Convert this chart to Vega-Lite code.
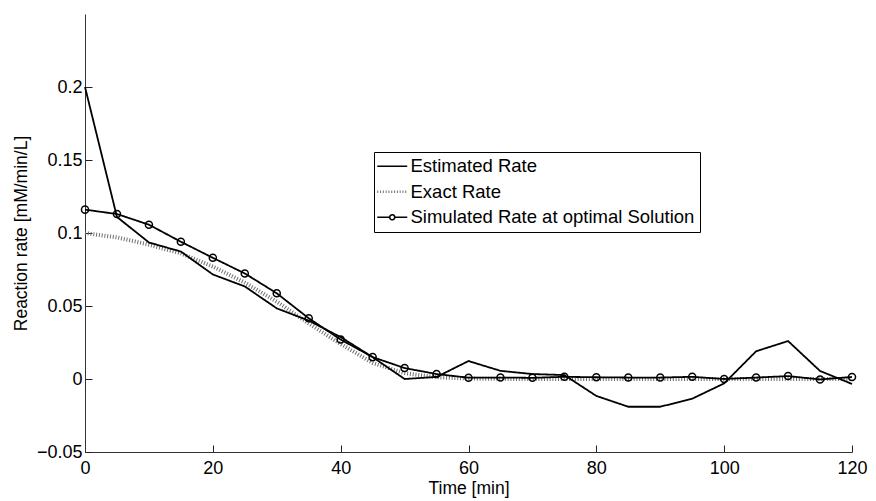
{
  "$schema": "https://vega.github.io/schema/vega-lite/v6.json",
  "width": 767,
  "height": 438,
  "autosize": {"type": "none"},
  "padding": {"left": 85, "top": 14, "right": 24, "bottom": 49},
  "background": "white",
  "config": {
    "view": {"stroke": null},
    "font": "Liberation Sans",
    "axis": {
      "grid": false,
      "domainColor": "#333333",
      "domainWidth": 1,
      "tickColor": "#222222",
      "tickWidth": 1,
      "tickSize": -7,
      "labelColor": "black",
      "labelFont": "Liberation Sans",
      "labelFontSize": 18,
      "titleFont": "Liberation Sans",
      "titleFontSize": 17.5,
      "titleFontWeight": "normal",
      "titleColor": "black"
    },
    "legend": {
      "orient": "none",
      "legendX": 289,
      "legendY": 138,
      "strokeColor": "black",
      "fillColor": "white",
      "padding": 5,
      "rowPadding": 6.5,
      "symbolSize": 400,
      "symbolOffset": 4,
      "labelOffset": 9,
      "labelFont": "Liberation Sans",
      "labelFontSize": 18.5,
      "labelColor": "black",
      "labelLimit": 400
    }
  },
  "data": {
    "values": [
      {"t": 0, "series": "Estimated Rate", "v": 0.2},
      {"t": 5, "series": "Estimated Rate", "v": 0.111},
      {"t": 10, "series": "Estimated Rate", "v": 0.0935},
      {"t": 15, "series": "Estimated Rate", "v": 0.0873},
      {"t": 20, "series": "Estimated Rate", "v": 0.0716},
      {"t": 25, "series": "Estimated Rate", "v": 0.0634},
      {"t": 30, "series": "Estimated Rate", "v": 0.0484},
      {"t": 35, "series": "Estimated Rate", "v": 0.04},
      {"t": 40, "series": "Estimated Rate", "v": 0.0287},
      {"t": 45, "series": "Estimated Rate", "v": 0.015},
      {"t": 50, "series": "Estimated Rate", "v": 0.0},
      {"t": 55, "series": "Estimated Rate", "v": 0.0014},
      {"t": 60, "series": "Estimated Rate", "v": 0.0123},
      {"t": 65, "series": "Estimated Rate", "v": 0.0056},
      {"t": 70, "series": "Estimated Rate", "v": 0.0034},
      {"t": 75, "series": "Estimated Rate", "v": 0.0027},
      {"t": 80, "series": "Estimated Rate", "v": -0.0116},
      {"t": 85, "series": "Estimated Rate", "v": -0.019},
      {"t": 90, "series": "Estimated Rate", "v": -0.019},
      {"t": 95, "series": "Estimated Rate", "v": -0.0135},
      {"t": 100, "series": "Estimated Rate", "v": -0.003},
      {"t": 105, "series": "Estimated Rate", "v": 0.019},
      {"t": 110, "series": "Estimated Rate", "v": 0.026},
      {"t": 115, "series": "Estimated Rate", "v": 0.0055},
      {"t": 120, "series": "Estimated Rate", "v": -0.0034},
      {"t": 0, "series": "Exact Rate", "v": 0.1},
      {"t": 5, "series": "Exact Rate", "v": 0.097},
      {"t": 10, "series": "Exact Rate", "v": 0.092},
      {"t": 15, "series": "Exact Rate", "v": 0.086},
      {"t": 20, "series": "Exact Rate", "v": 0.077},
      {"t": 25, "series": "Exact Rate", "v": 0.066},
      {"t": 30, "series": "Exact Rate", "v": 0.053},
      {"t": 35, "series": "Exact Rate", "v": 0.038},
      {"t": 40, "series": "Exact Rate", "v": 0.024},
      {"t": 45, "series": "Exact Rate", "v": 0.011},
      {"t": 50, "series": "Exact Rate", "v": 0.004},
      {"t": 55, "series": "Exact Rate", "v": 0.0012},
      {"t": 60, "series": "Exact Rate", "v": 0.0003},
      {"t": 65, "series": "Exact Rate", "v": 0.0001},
      {"t": 70, "series": "Exact Rate", "v": 0.0},
      {"t": 75, "series": "Exact Rate", "v": 0.0},
      {"t": 80, "series": "Exact Rate", "v": 0.0},
      {"t": 85, "series": "Exact Rate", "v": 0.0},
      {"t": 90, "series": "Exact Rate", "v": 0.0},
      {"t": 95, "series": "Exact Rate", "v": 0.0},
      {"t": 100, "series": "Exact Rate", "v": 0.0},
      {"t": 105, "series": "Exact Rate", "v": 0.0},
      {"t": 110, "series": "Exact Rate", "v": 0.0},
      {"t": 115, "series": "Exact Rate", "v": 0.0},
      {"t": 120, "series": "Exact Rate", "v": 0.0},
      {"t": 0, "series": "Simulated Rate at optimal Solution", "v": 0.116},
      {"t": 5, "series": "Simulated Rate at optimal Solution", "v": 0.113},
      {"t": 10, "series": "Simulated Rate at optimal Solution", "v": 0.1057},
      {"t": 15, "series": "Simulated Rate at optimal Solution", "v": 0.094},
      {"t": 20, "series": "Simulated Rate at optimal Solution", "v": 0.083},
      {"t": 25, "series": "Simulated Rate at optimal Solution", "v": 0.0723},
      {"t": 30, "series": "Simulated Rate at optimal Solution", "v": 0.0587},
      {"t": 35, "series": "Simulated Rate at optimal Solution", "v": 0.0416},
      {"t": 40, "series": "Simulated Rate at optimal Solution", "v": 0.027},
      {"t": 45, "series": "Simulated Rate at optimal Solution", "v": 0.015},
      {"t": 50, "series": "Simulated Rate at optimal Solution", "v": 0.0075},
      {"t": 55, "series": "Simulated Rate at optimal Solution", "v": 0.0034},
      {"t": 60, "series": "Simulated Rate at optimal Solution", "v": 0.0009},
      {"t": 65, "series": "Simulated Rate at optimal Solution", "v": 0.001},
      {"t": 70, "series": "Simulated Rate at optimal Solution", "v": 0.0008},
      {"t": 75, "series": "Simulated Rate at optimal Solution", "v": 0.0015},
      {"t": 80, "series": "Simulated Rate at optimal Solution", "v": 0.0012},
      {"t": 85, "series": "Simulated Rate at optimal Solution", "v": 0.001},
      {"t": 90, "series": "Simulated Rate at optimal Solution", "v": 0.001},
      {"t": 95, "series": "Simulated Rate at optimal Solution", "v": 0.0015},
      {"t": 100, "series": "Simulated Rate at optimal Solution", "v": 0.0},
      {"t": 105, "series": "Simulated Rate at optimal Solution", "v": 0.001},
      {"t": 110, "series": "Simulated Rate at optimal Solution", "v": 0.002},
      {"t": 115, "series": "Simulated Rate at optimal Solution", "v": -0.0003},
      {"t": 120, "series": "Simulated Rate at optimal Solution", "v": 0.0014}
    ]
  },
  "encoding": {
    "x": {
      "field": "t",
      "type": "quantitative",
      "scale": {"domain": [0, 120], "nice": false, "zero": false},
      "axis": {"values": [0, 20, 40, 60, 80, 100, 120], "format": "d", "title": "Time [min]", "labelPadding": 14, "titlePadding": 2, "labelFlush": false}
    },
    "y": {
      "field": "v",
      "type": "quantitative",
      "scale": {"domain": [-0.05, 0.25], "nice": false, "zero": false},
      "axis": {"values": [-0.05, 0, 0.05, 0.1, 0.15, 0.2], "format": "~g", "title": "Reaction rate [mM/min/L]", "labelPadding": 10, "titlePadding": 6, "labelFlush": false}
    }
  },
  "layer": [
    {
      "transform": [{"filter": "datum.series === 'Exact Rate'"}],
      "mark": {"type": "line", "strokeWidth": 4},
      "encoding": {
        "color": {
          "field": "series",
          "type": "nominal",
          "scale": {
            "domain": ["Estimated Rate", "Exact Rate", "Simulated Rate at optimal Solution"],
            "range": ["black", "#6e6e6e", "black"]
          },
          "legend": {
            "title": null,
            "encode": {
              "symbols": {
                "update": {
                  "shape": {"signal": "datum.value === 'Simulated Rate at optimal Solution' ? 'M-1.5,0H-0.25M0.25,0H1.5M-0.25,0A0.25,0.25 0 1 1 0.25,0A0.25,0.25 0 1 1 -0.25,0' : 'M-1.5,0H1.5'"},
                  "strokeWidth": {"signal": "datum.value === 'Exact Rate' ? 2.5 : 1.6"}
                }
              }
            }
          }
        },
        "strokeDash": {
          "field": "series",
          "type": "nominal",
          "scale": {
            "domain": ["Estimated Rate", "Exact Rate", "Simulated Rate at optimal Solution"],
            "range": [[1, 0], [1, 1.8], [1, 0]]
          },
          "legend": null
        }
      }
    },
    {
      "transform": [{"filter": "datum.series !== 'Exact Rate'"}],
      "mark": {"type": "line", "strokeWidth": 1.8},
      "encoding": {
        "color": {
          "field": "series",
          "type": "nominal",
          "scale": {
            "domain": ["Estimated Rate", "Exact Rate", "Simulated Rate at optimal Solution"],
            "range": ["black", "#6e6e6e", "black"]
          },
          "legend": {
            "title": null,
            "encode": {
              "symbols": {
                "update": {
                  "shape": {"signal": "datum.value === 'Simulated Rate at optimal Solution' ? 'M-1.5,0H-0.25M0.25,0H1.5M-0.25,0A0.25,0.25 0 1 1 0.25,0A0.25,0.25 0 1 1 -0.25,0' : 'M-1.5,0H1.5'"},
                  "strokeWidth": {"signal": "datum.value === 'Exact Rate' ? 2.5 : 1.6"}
                }
              }
            }
          }
        },
        "strokeDash": {
          "field": "series",
          "type": "nominal",
          "scale": {
            "domain": ["Estimated Rate", "Exact Rate", "Simulated Rate at optimal Solution"],
            "range": [[1, 0], [1, 1.8], [1, 0]]
          },
          "legend": null
        }
      }
    },
    {
      "transform": [{"filter": "datum.series === 'Simulated Rate at optimal Solution'"}],
      "mark": {"type": "point", "filled": false, "color": "black", "strokeWidth": 1.5, "size": 50, "opacity": 1}
    }
  ]
}
